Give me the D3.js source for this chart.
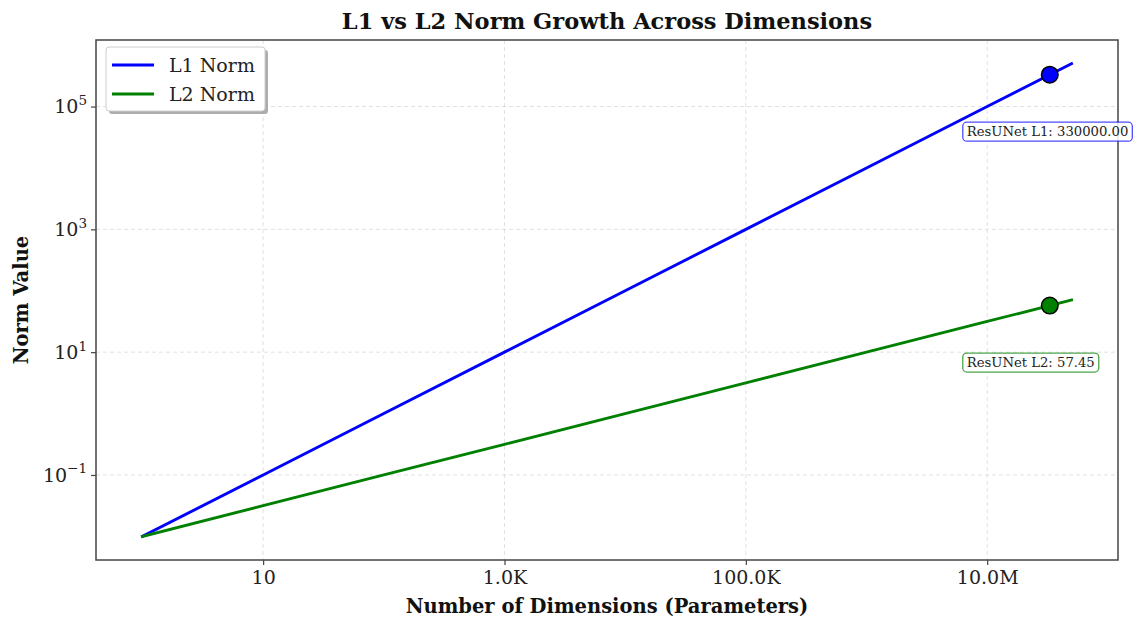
<!DOCTYPE html>
<html>
<head>
<meta charset="utf-8">
<script src="https://cdn.jsdelivr.net/npm/d3@7/dist/d3.min.js"></script>
<style>
  html, body { margin: 0; padding: 0; background: #fff; }
  svg { display: block; font-family: "DejaVu Serif", serif; }
</style>
</head>
<body>
<svg id="chart" width="1133" height="618"></svg>
<script>
// ---- data ----
const dimensions = [1, 10, 100, 1000, 1e4, 1e5, 1e6, 1e7, 5e7];
const l1Values = [0.01, 0.1, 1, 10, 100, 1000, 10000, 100000, 500000];
const l2Values = [0.01, 0.0316, 0.1, 0.316, 1, 3.16, 10, 31.62, 70.71];
const seriesNames = ["L1 Norm", "L2 Norm"];
const seriesColors = ["#0000ff", "#008000"];
const resunetDim = 33000000;
const resunetL1 = 330000.00;
const resunetL2 = 57.45;
const annotationLabels = ["ResUNet L1: 330000.00", "ResUNet L2: 57.45"];
const xTickValues = [10, 1000, 100000, 10000000];
const xTickLabels = ["10", "1.0K", "100.0K", "10.0M"];
const yTickExponents = [-1, 1, 3, 5];
const titleText = "L1 vs L2 Norm Growth Across Dimensions";
const xLabelText = "Number of Dimensions (Parameters)";
const yLabelText = "Norm Value";

// ---- layout ----
const m = { left: 96, right: 1118, top: 40, bottom: 560 };
const svg = d3.select("#chart");

const lx0 = Math.log10(d3.min(dimensions)), lx1 = Math.log10(d3.max(dimensions));
const allY = l1Values.concat(l2Values);
const ly0 = Math.log10(d3.min(allY)), ly1 = Math.log10(d3.max(allY));
const px = (lx1 - lx0) * 0.05, py = (ly1 - ly0) * 0.05;
const x = d3.scaleLog().domain([Math.pow(10, lx0 - px), Math.pow(10, lx1 + px)]).range([m.left, m.right]);
const y = d3.scaleLog().domain([Math.pow(10, ly0 - py), Math.pow(10, ly1 + py)]).range([m.bottom, m.top]);

const frameColor = "#444";
const tickFont = 19;

// grid
const grid = svg.append("g");
xTickValues.forEach(v => {
  grid.append("line").attr("x1", x(v)).attr("x2", x(v)).attr("y1", m.top).attr("y2", m.bottom)
    .attr("stroke", "#d9d9d9").attr("stroke-width", 0.8).attr("stroke-dasharray", "4,3");
});
yTickExponents.forEach(e => {
  const v = Math.pow(10, e);
  grid.append("line").attr("x1", m.left).attr("x2", m.right).attr("y1", y(v)).attr("y2", y(v))
    .attr("stroke", "#d9d9d9").attr("stroke-width", 0.8).attr("stroke-dasharray", "4,3");
});

// lines
const line = d3.line().x(d => x(d[0])).y(d => y(d[1]));
[l1Values, l2Values].forEach((vals, i) => {
  svg.append("path")
    .datum(dimensions.map((d, j) => [d, vals[j]]))
    .attr("d", line).attr("fill", "none")
    .attr("stroke", seriesColors[i]).attr("stroke-width", 2.9)
    .attr("stroke-linecap", "square");
});

// axes
const xAxis = d3.axisBottom(x).tickValues(xTickValues)
  .tickFormat((d, i) => xTickLabels[i]).tickSize(5).tickPadding(6);
const gx = svg.append("g").attr("transform", `translate(0,${m.bottom})`).call(xAxis);
gx.select(".domain").remove();
gx.selectAll(".tick line").attr("stroke", frameColor).attr("stroke-width", 1.2);
gx.selectAll(".tick text").attr("font-size", tickFont).attr("fill", "#222")
  .attr("font-family", "DejaVu Serif");

const yAxis = d3.axisLeft(y).tickValues(yTickExponents.map(e => Math.pow(10, e)))
  .tickFormat("").tickSize(5);
const gy = svg.append("g").attr("transform", `translate(${m.left},0)`).call(yAxis);
gy.select(".domain").remove();
gy.selectAll(".tick line").attr("stroke", frameColor).attr("stroke-width", 1.2);
gy.selectAll(".tick").each(function(d, i) {
  const t = d3.select(this).append("text")
    .attr("x", -9).attr("dy", "0.32em").attr("text-anchor", "end")
    .attr("font-size", tickFont).attr("fill", "#222").attr("font-family", "DejaVu Serif");
  t.append("tspan").text("10");
  t.append("tspan").attr("font-size", 13.5).attr("dy", "-0.6em")
    .text(String(yTickExponents[i]).replace("-", "\u2212"));
});

// frame
svg.append("rect").attr("x", m.left).attr("y", m.top)
  .attr("width", m.right - m.left).attr("height", m.bottom - m.top)
  .attr("fill", "none").attr("stroke", frameColor).attr("stroke-width", 1.5);

// markers + annotations
const pts = [[resunetDim, resunetL1], [resunetDim, resunetL2]];
pts.forEach((p, i) => {
  const cx = x(p[0]), cy = y(p[1]);
  svg.append("circle").attr("cx", cx).attr("cy", cy).attr("r", 8.3)
    .attr("fill", seriesColors[i]).attr("stroke", "#000").attr("stroke-width", 1.5);
});
pts.forEach((p, i) => {
  const cx = x(p[0]), cy = y(p[1]);
  const g = svg.append("g");
  const t = g.append("text").attr("x", cx - 83).attr("y", cy + 57).attr("dy", "0.35em")
    .attr("font-size", 13.2).attr("fill", "#222").text(annotationLabels[i]);
  const bb = t.node().getBBox();
  g.insert("rect", "text").attr("x", bb.x - 4).attr("y", cy + 57 - 9.5)
    .attr("width", bb.width + 8).attr("height", 19).attr("rx", 4)
    .attr("fill", "#fff").attr("fill-opacity", 0.85)
    .attr("stroke", seriesColors[i]).attr("stroke-opacity", 0.7).attr("stroke-width", 1.3);
});

// legend
const lg = svg.append("g");
lg.append("rect").attr("x", 109).attr("y", 50).attr("width", 159).attr("height", 64).attr("rx", 3)
  .attr("fill", "#999").attr("fill-opacity", 0.8);
lg.append("rect").attr("x", 106).attr("y", 47).attr("width", 159).attr("height", 64).attr("rx", 3)
  .attr("fill", "#fff").attr("stroke", "#ccc").attr("stroke-width", 1);
seriesNames.forEach((n, i) => {
  const yy = 65 + i * 29;
  lg.append("line").attr("x1", 112).attr("x2", 154).attr("y1", yy).attr("y2", yy)
    .attr("stroke", seriesColors[i]).attr("stroke-width", 2.9);
  lg.append("text").attr("x", 169).attr("y", yy).attr("dy", "0.35em")
    .attr("font-size", tickFont).attr("fill", "#222").text(n);
});

// titles
svg.append("text").attr("x", (m.left + m.right) / 2).attr("y", 29).attr("text-anchor", "middle")
  .attr("font-size", 22.5).attr("font-weight", "bold").attr("fill", "#111").text(titleText);
svg.append("text").attr("x", (m.left + m.right) / 2).attr("y", 613).attr("text-anchor", "middle")
  .attr("font-size", 19.5).attr("font-weight", "bold").attr("fill", "#111").text(xLabelText);
svg.append("text").attr("transform", `translate(28,${(m.top + m.bottom) / 2}) rotate(-90)`)
  .attr("text-anchor", "middle")
  .attr("font-size", 19.5).attr("font-weight", "bold").attr("fill", "#111").text(yLabelText);
</script>
</body>
</html>
